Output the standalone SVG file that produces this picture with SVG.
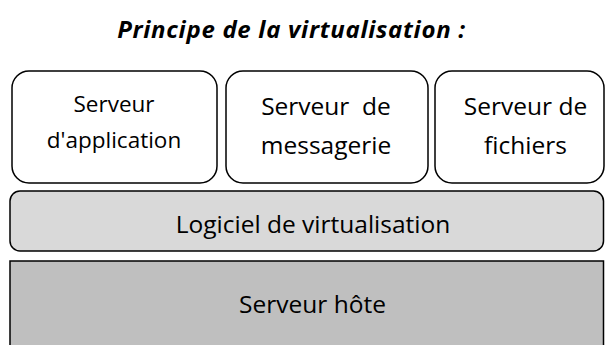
<svg xmlns="http://www.w3.org/2000/svg" width="605" height="345" viewBox="0 0 605 345">
<style>
  .box { fill: #ffffff; stroke: #000000; stroke-width: 1.5; }
  .virt { fill: #d9d9d9; stroke: #000000; stroke-width: 1.5; }
  .host { fill: #bfbfbf; stroke: #000000; stroke-width: 1.5; }
  text { font-family: "Open Sans", "Noto Sans", sans-serif; fill: #000000; text-anchor: middle; }
  .title { font-weight: bold; font-style: italic; font-size: 24px; letter-spacing: 0.7px; }
  .small { font-size: 22.5px; }
  .big { font-size: 24.5px; }
</style>
<rect width="605" height="345" fill="#ffffff"/>
<text class="title" x="291.5" y="38">Principe de la virtualisation :</text>
<g id="hote">
  <rect class="host" x="10" y="261" width="593.5" height="100"/>
  <text class="big" x="312.5" y="313">Serveur hôte</text>
</g>
<g id="virtualisation">
  <rect class="virt" x="10" y="191" width="593.5" height="60" rx="10" ry="10"/>
  <text class="big" x="313" y="233">Logiciel de virtualisation</text>
</g>
<g id="serveur-application">
  <rect class="box" x="12" y="71" width="205" height="112" rx="17" ry="17"/>
  <text class="small" x="114" y="112">Serveur</text>
  <text class="small" x="114" y="148">d'application</text>
</g>
<g id="serveur-messagerie">
  <rect class="box" x="226" y="71" width="202" height="112" rx="17" ry="17"/>
  <text class="big" x="326" y="115" xml:space="preserve">Serveur  de</text>
  <text class="big" x="326" y="154">messagerie</text>
</g>
<g id="serveur-fichiers">
  <rect class="box" x="435" y="71" width="169" height="112" rx="17" ry="17"/>
  <text class="big" x="525.5" y="115">Serveur de</text>
  <text class="big" x="525.5" y="154">fichiers</text>
</g>
<g id="connectors"></g>
</svg>
